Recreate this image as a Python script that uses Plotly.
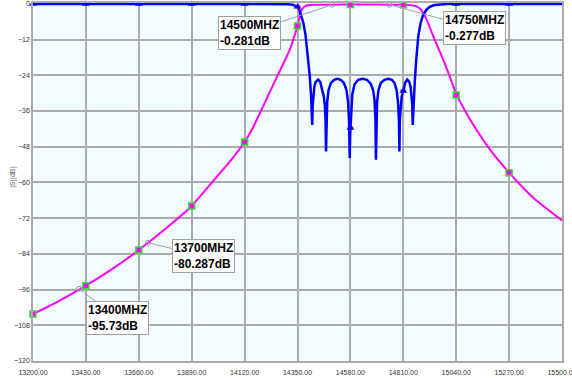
import plotly.graph_objects as go

# ---------------- data ----------------
x_ticks = [13200, 13430, 13660, 13890, 14120, 14350, 14580, 14810, 15040, 15270, 15500]
y_ticks = [0, -12, -24, -36, -48, -60, -72, -84, -96, -108, -120]

# S11 (blue, reflection)
s11_freq = [13200, 13430, 13660, 13890, 14120, 14250, 14300, 14330, 14345, 14350, 14358, 14366,
            14375, 14385, 14395, 14403, 14409, 14412, 14414,
            14416, 14419, 14423, 14429, 14440, 14449, 14457, 14464, 14469, 14472, 14474,
            14476, 14479, 14485, 14495, 14509, 14523, 14538, 14552, 14563, 14570, 14574, 14577,
            14579, 14580, 14583, 14588, 14598, 14614, 14633, 14652, 14668, 14679, 14685, 14689, 14691,
            14693, 14696, 14702, 14712, 14728, 14745, 14760, 14772, 14781, 14787, 14791, 14793,
            14795, 14798, 14803, 14810, 14818, 14827, 14836, 14842, 14846, 14849, 14851,
            14853, 14856, 14860, 14866, 14875, 14885, 14895, 14910, 14925, 14945, 14970, 15000,
            15040, 15270, 15500]
s11_db = [0, 0, 0, 0, 0, -0.02, -0.08, -0.3, -0.7, -1.0, -2.0, -3.8,
          -6.3, -10.5, -17, -24, -31, -36, -40.7,
          -34, -30.5, -28, -26.2, -25.4, -26.3, -28.8, -31, -34, -39, -49.6,
          -39, -33, -29, -26.6, -25.5, -25.2, -25.5, -26.6, -29, -33, -39, -51.8,
          -44, -41.7, -35.5, -30.5, -27, -25.5, -25.2, -25.5, -26.8, -29, -32.5, -39, -52.4,
          -39, -33, -29, -26.6, -25.5, -25.2, -25.5, -26.6, -29, -33, -39, -49.6,
          -39, -34, -31, -29.3, -26.5, -25.4, -26.2, -28, -30.5, -34, -40.7,
          -36, -31, -26, -19, -11, -6.5, -4, -2, -1, -0.4, -0.15, -0.05,
          0, 0, 0]

# S21 (magenta, transmission)
s21_freq = [13200, 13300, 13430, 13550, 13660, 13780, 13890, 14000, 14060, 14120, 14151, 14200,
            14260, 14300, 14317, 14335, 14350, 14361, 14372, 14383, 14395, 14420, 14460, 14500,
            14580, 14650, 14750, 14810, 14850, 14870, 14885, 14898, 14912, 14925, 14941, 14960,
            14984, 15010, 15042, 15085, 15129, 15187, 15270, 15380, 15500]
s21_db = [-104.2, -100.4, -94.7, -88.8, -82.7, -75.3, -67.9, -58.0, -52.6, -46.4, -42.4, -34.5,
          -24.6, -18.2, -15.3, -11.2, -7.4, -3.6, -1.6, -0.8, -0.45, -0.3, -0.27, -0.281,
          -0.2, -0.2, -0.277, -0.3, -0.5, -0.9, -1.8, -3.2, -5.4, -7.9, -11.0, -14.5,
          -18.8, -24.0, -30.6, -36.8, -42.4, -49.0, -56.7, -65.5, -72.8]

# markers placed at tick frequencies
s11_mark_freq = [13200, 13430, 13660, 13890, 14120, 14350, 14580, 14810, 15040, 15270]
s11_mark_db = [0, 0, 0, 0, 0, -1.0, -41.7, -29.3, 0, 0]
s22_mark_freq = [14350, 14580, 14810]
s22_mark_db = [-1.0, -41.7, -29.3]
s21_mark_freq = [13200, 13430, 13660, 13890, 14120, 14350, 14580, 14810, 15040, 15270]
s21_mark_db = [-104.2, -94.7, -82.7, -67.9, -46.4, -7.4, -0.2, -0.3, -30.6, -56.7]

# data-tip markers
tip_freq = [14500, 14750, 13700, 13400]
tip_db = [-0.281, -0.277, -80.287, -95.73]
tip_text = ["14500MHZ<br>-0.281dB", "14750MHZ<br>-0.277dB", "13700MHZ<br>-80.287dB", "13400MHZ<br>-95.73dB"]

FONT = "Arial, Liberation Sans, sans-serif"

fig = go.Figure()
fig.add_trace(go.Scatter(x=s21_freq, y=s21_db, mode="lines",
                         line=dict(color="#FF00FF", width=2, shape="spline", smoothing=0.5)))
fig.add_trace(go.Scatter(x=s11_freq, y=s11_db, mode="lines",
                         line=dict(color="#0000FF", width=2.5)))
fig.add_trace(go.Scatter(x=s21_mark_freq, y=s21_mark_db, mode="markers", cliponaxis=False,
                         marker=dict(symbol="square", size=6, color="#FF00FF",
                                     line=dict(color="#33DD33", width=1.5))))
fig.add_trace(go.Scatter(x=s22_mark_freq, y=s22_mark_db, mode="markers", cliponaxis=False,
                         marker=dict(symbol="triangle-down", size=6, color="#FF2020")))
fig.add_trace(go.Scatter(x=s11_mark_freq, y=s11_mark_db, mode="markers", cliponaxis=False,
                         marker=dict(symbol="triangle-up", size=7, color="#0000FF")))
fig.add_trace(go.Scatter(x=tip_freq, y=tip_db, mode="markers",
                         marker=dict(symbol="circle-open", size=5, color="#999999",
                                     line=dict(width=1))))

offsets = [(-83, 28), (85, 23), (55, 13), (38, 29)]
for f, d, t, (ax, ay) in zip(tip_freq, tip_db, tip_text, offsets):
    fig.add_annotation(x=f, y=d, text="<b>" + t + "</b>", align="left",
                       showarrow=True, arrowhead=0, arrowwidth=1, arrowcolor="#A0A0A0",
                       ax=ax, ay=ay, bgcolor="white", bordercolor="#A0A0A0", borderwidth=1,
                       borderpad=1, font=dict(family=FONT, size=12, color="black"))

fig.add_annotation(xref="paper", yref="paper", x=-0.049, y=0.515, text="|S|(dB)",
                   textangle=-90, showarrow=False, font=dict(family=FONT, size=7, color="#666666"))
fig.add_annotation(xref="paper", yref="paper", x=0.5, y=-0.036, yanchor="top", text="Freq (MHz)",
                   showarrow=False, font=dict(family=FONT, size=8, color="#999999"))

fig.update_layout(
    width=572, height=378,
    margin=dict(l=33, r=10, t=3, b=17),
    paper_bgcolor="white", plot_bgcolor="#F2FCFF",
    showlegend=False,
    xaxis=dict(range=[13200, 15500], tickvals=x_ticks, tickformat=".2f",
               showgrid=True, gridcolor="#ABABAB", gridwidth=1.5,
               showline=True, linecolor="#ABABAB", linewidth=1.5, mirror=True,
               zeroline=False, ticks="outside", ticklen=4, tickcolor="rgba(0,0,0,0)",
               ticklabeloverflow="allow", automargin=False,
               tickfont=dict(family=FONT, size=7, color="#333333")),
    yaxis=dict(range=[-120, 0.3], tickvals=y_ticks, automargin=False,
               showgrid=True, gridcolor="#ABABAB", gridwidth=1.5,
               showline=True, linecolor="#ABABAB", linewidth=1.5, mirror=True,
               zeroline=False, ticks="", tickfont=dict(family=FONT, size=7, color="#333333")),
)

fig.write_html("out.html", config={"displayModeBar": False},
               post_script="document.body.style.margin='0';document.body.style.overflow='hidden';")
